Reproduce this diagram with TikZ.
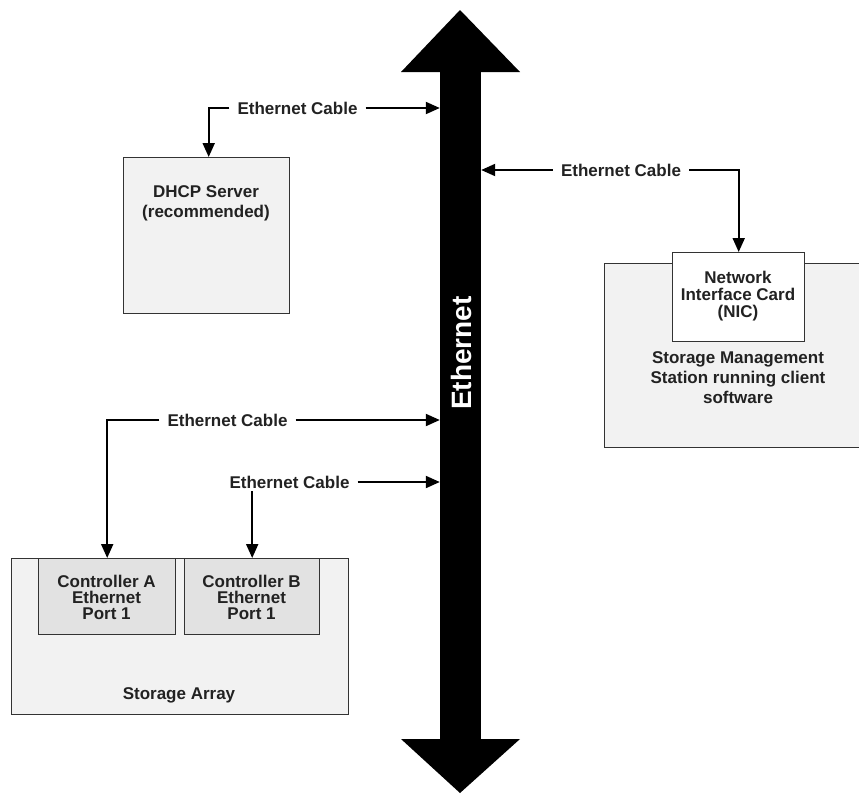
\documentclass[tikz,border=0pt]{standalone}
\usepackage{fontspec}
\setmainfont{Liberation Sans}
\usetikzlibrary{arrows.meta}
\definecolor{ink}{HTML}{222222}
\definecolor{edge}{HTML}{333333}
\definecolor{panel}{HTML}{F2F2F2}
\definecolor{port}{HTML}{E2E2E2}
\tikzset{
  x=1pt, y=-1pt,
  box/.style={draw=edge, line width=1.4pt, anchor=north west, inner sep=0pt},
  txt/.style={font=\fontsize{17}{20}\selectfont\bfseries, text=ink, align=center, inner sep=0pt},
  cable/.style={font=\fontsize{17}{20}\selectfont\bfseries, text=ink, inner xsep=8pt, inner ysep=3pt},
  wire/.style={line width=2pt, draw=black, -{Triangle[length=14pt,width=12pt]}},
  bus/.style={fill=black, draw=none, inner sep=0pt, minimum width=41pt, minimum height=669pt}
}
\begin{document}
\begin{tikzpicture}
\useasboundingbox[fill=white] (0,0) rectangle (859,796);

% Ethernet backbone: shaft plus two arrow heads
\node[bus] (bus) at (460.5,405.5) {};
\fill[black] (401,72) -- (460,10) -- (520,72) -- cycle;
\fill[black] (401,739) -- (460,793) -- (520,739) -- cycle;
\node[rotate=90, font=\fontsize{28}{30}\selectfont\bfseries, text=white, inner sep=0pt] (ethlabel) at (461,353) {Ethernet};

% DHCP server
\node[box, fill=panel, minimum width=166pt, minimum height=156pt] (dhcp) at (123,157) {};
\node[txt] (dhcptext) at (206,203) {DHCP Server\\(recommended)};

% Management station with its NIC
\node[box, fill=panel, minimum width=270pt, minimum height=184pt] (station) at (604,263) {};
\node[box, fill=white, minimum width=132pt, minimum height=89pt] (nic) at (672,252) {};
\node[txt, font=\fontsize{17}{17}\selectfont\bfseries] (nictext) at (738,296) {Network\\Interface Card\\(NIC)};
\node[txt] (stationtext) at (738,378) {Storage Management\\Station running client\\software};

% Storage array with two controller ports
\node[box, fill=panel, minimum width=337pt, minimum height=156pt] (array) at (11,558) {};
\node[box, fill=port, minimum width=137pt, minimum height=76pt] (ctla) at (38,558) {};
\node[box, fill=port, minimum width=135pt, minimum height=76pt] (ctlb) at (184,558) {};
\node[txt, font=\fontsize{17}{16}\selectfont\bfseries] (ctlatext) at (106.5,597) {Controller A\\Ethernet\\Port 1};
\node[txt, font=\fontsize{17}{16}\selectfont\bfseries] (ctlbtext) at (251.5,597) {Controller B\\Ethernet\\Port 1};
\node[txt] (arraytext) at (179,695) {Storage Array};

% Cable labels
\node[cable] (c1) at (297.5,108) {Ethernet Cable};
\node[cable] (c2) at (621,170) {Ethernet Cable};
\node[cable] (c3) at (227.5,420) {Ethernet Cable};
\node[cable] (c4) at (289.5,482) {Ethernet Cable};

% Cables
\draw[wire] (c1.east) -- (c1.east -| bus.west);
\draw[wire] (c1.west) -| ([xshift=2pt]dhcp.north);
\draw[wire] (c2.west) -- (c2.west -| bus.east);
\draw[wire] (c2.east) -| (nic.north);
\draw[wire] (c3.east) -- (c3.east -| bus.west);
\draw[wire] (c3.west) -| (ctla.north);
\draw[wire] (c4.east) -- (c4.east -| bus.west);
\draw[wire] (ctlb.north |- c4.south) -- (ctlb.north);
\end{tikzpicture}
\end{document}
